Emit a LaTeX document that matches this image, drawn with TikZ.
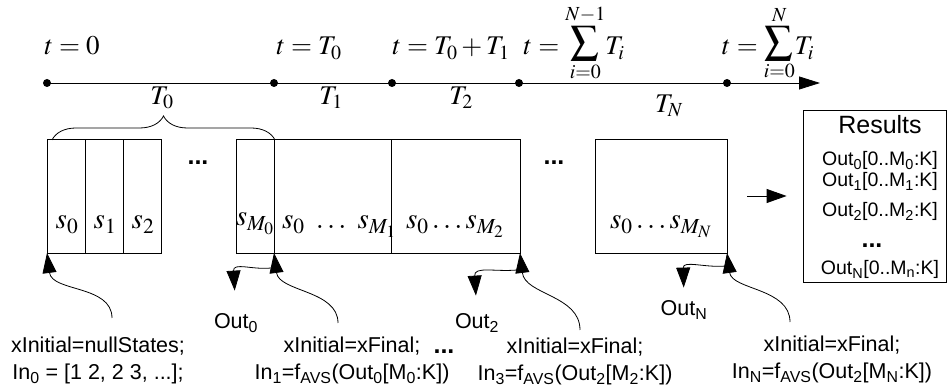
\documentclass[tikz,border=0pt]{standalone}
\usepackage{mathptmx}
\usepackage[no-math]{fontspec}
\setmainfont{Liberation Sans}
\usetikzlibrary{arrows.meta,decorations.pathreplacing}

% summation with limits set close to the sign
\newcommand{\stacksum}[2]{\raisebox{5pt}{$\vcenter{\offinterlineskip\halign{\hfil##\hfil\cr
    $\scriptstyle #2$\cr\noalign{\kern4pt}
    \fontsize{28}{32}\selectfont$\displaystyle\sum$\cr\noalign{\kern4pt}
    $\scriptstyle #1$\cr}}$}}

\begin{document}
\begin{tikzpicture}[
    x=1pt,y=-1pt,
    cell/.style={draw,minimum height=114pt,inner sep=0pt,outer sep=0pt},
    tdot/.style={circle,fill,inner sep=0pt,minimum size=8pt},
    tlab/.style={anchor=base,font=\fontsize{27}{30}\selectfont},
    slab/.style={anchor=base,font=\fontsize{29}{32}\selectfont},
    note/.style={anchor=north,align=center,font=\fontsize{21.5}{27}\selectfont,inner sep=1pt},
    outlab/.style={anchor=base,font=\fontsize{21.5}{26}\selectfont,inner sep=1pt},
    reslab/.style={anchor=base,font=\fontsize{19.5}{23}\selectfont,inner sep=1pt},
    gap/.style={anchor=base,font=\fontsize{25}{26}\selectfont\bfseries},
    arr/.style={-{Triangle[length=20pt,width=14pt]}},
    line width=0.8pt,
]
    \useasboundingbox (0,0) rectangle (948,387);

    % time axis
    \node[tdot] (p0) at (47,83) {};
    \node[tdot] (p1) at (274,83) {};
    \node[tdot] (p2) at (392,83) {};
    \node[tdot] (p3) at (519,83) {};
    \node[tdot] (p4) at (727,83) {};
    \coordinate (tend) at (820,83);
    \draw[-{Triangle[length=21pt,width=13pt]}] (p0.center) -- (tend);

    \node[tlab] (t0) at (72,55) {$t=0$};
    \node[tlab] (t1) at (309,55) {$t=T_0$};
    \node[tlab] (t2) at (451,55) {$t=T_0+T_1$};
    \node[tlab] (t3) at (574,55) {$t=\stacksum{i=0}{N-1}T_i$};
    \node[tlab] (t4) at (768,55) {$t=\stacksum{i=0}{N}T_i$};

    \node[tlab,anchor=center] (T0) at (162,98) {$T_0$};
    \node[tlab,anchor=center] (T1) at (331,98) {$T_1$};
    \node[tlab,anchor=center] (T2) at (461,98) {$T_2$};
    \node[tlab,anchor=center] (TN) at (669,106) {$T_N$};

    \draw[decorate,decoration={brace,amplitude=24pt}] (52,140) -- (275,140);

    % state blocks
    \node[cell,minimum width=38pt] (c0) at (66,196) {};
    \node[cell,minimum width=38pt] (c1) at (104,196) {};
    \node[cell,minimum width=38pt] (c2) at (142,196) {};
    \node[cell,minimum width=38pt] (d0) at (255,196) {};
    \node[cell,minimum width=117pt] (d1) at (332.5,196) {};
    \node[cell,minimum width=129pt] (d2) at (455.5,196) {};
    \node[cell,minimum width=132pt] (e0) at (661,196) {};

    \node[slab] (s0) at (67,229) {$s_0$};
    \node[slab] (s1) at (105,229) {$s_1$};
    \node[slab] (s2) at (143,229) {$s_2$};
    \node[slab] (sm0) at (255,226) {$s_{M_0}$};
    \node[slab] (sm1) at (339,229) {$s_0\ \ldots\ s_{M_1}$};
    \node[slab] (sm2) at (455,229) {$s_0\ldots s_{M_2}$};
    \node[slab] (smn) at (661,229) {$s_0\ldots s_{M_N}$};

    \node[gap] (g1) at (198,165) {...};
    \node[gap] (g2) at (554,165) {...};

    % results
    \node[draw,minimum width=143pt,minimum height=172pt,inner sep=0pt] (res) at (874.5,196) {};
    \node[anchor=base,font=\fontsize{25}{28}\selectfont] (rh) at (880,134) {Results};
    \node[reslab] (r0) at (880,166) {Out\textsubscript{0}[0..M\textsubscript{0}:K]};
    \node[reslab] (r1) at (880,187) {Out\textsubscript{1}[0..M\textsubscript{1}:K]};
    \node[reslab] (r2) at (880,217) {Out\textsubscript{2}[0..M\textsubscript{2}:K]};
    \node[gap] (rd) at (872,248) {...};
    \node[reslab] (rN) at (880,275) {Out\textsubscript{N}[0..M\textsubscript{n}:K]};
    \draw[arr,shorten >=16pt] ([xshift=20pt]e0.east) -- (res.west);

    % inputs
    \node[note] (in0) at (98,336) {xInitial=nullStates;\\In\textsubscript{0} = [1 2, 2 3, ...];};
    \node[note] (in1) at (352,336) {xInitial=xFinal;\\In\textsubscript{1}=f\textsubscript{AVS}(Out\textsubscript{0}[M\textsubscript{0}:K])};
    \node[gap] (dn) at (444,353) {...};
    \node[note] (in3) at (575,337) {xInitial=xFinal;\\In\textsubscript{3}=f\textsubscript{AVS}(Out\textsubscript{2}[M\textsubscript{2}:K])};
    \node[note] (inN) at (832,335) {xInitial=xFinal;\\In\textsubscript{N}=f\textsubscript{AVS}(Out\textsubscript{2}[M\textsubscript{N}:K])};

    \coordinate (a0) at (112,318);
    \coordinate (a1) at (338,323);
    \coordinate (a3) at (580,330);
    \coordinate (aN) at (790,322);
    \draw[arr] (a0) .. controls (112,285) and (52,292) .. (c0.south west);
    \draw[arr] (a1) .. controls (338,290) and (279,292) .. (d0.south east);
    \draw[arr] (a3) .. controls (580,295) and (525,295) .. (d2.south east);
    \draw[arr] (aN) .. controls (790,288) and (732,290) .. (e0.south east);

    % outputs
    \node[outlab] (out0) at (236,329) {Out\textsubscript{0}};
    \node[outlab] (out2) at (477,329) {Out\textsubscript{2}};
    \node[outlab] (outN) at (684,316) {Out\textsubscript{N}};
    \coordinate (o0) at (271,268);
    \coordinate (o2) at (517,270);
    \coordinate (oN) at (726,266);
    \draw[arr,shorten >=22pt] (o0) .. controls (252,270) and (233,262) .. (out0.north);
    \draw[arr,shorten >=17pt] (o2) .. controls (495,272) and (474,266) .. (out2.north);
    \draw[arr,shorten >=12pt] (oN) .. controls (705,268) and (683,260) .. (outN.north);
\end{tikzpicture}
\end{document}
